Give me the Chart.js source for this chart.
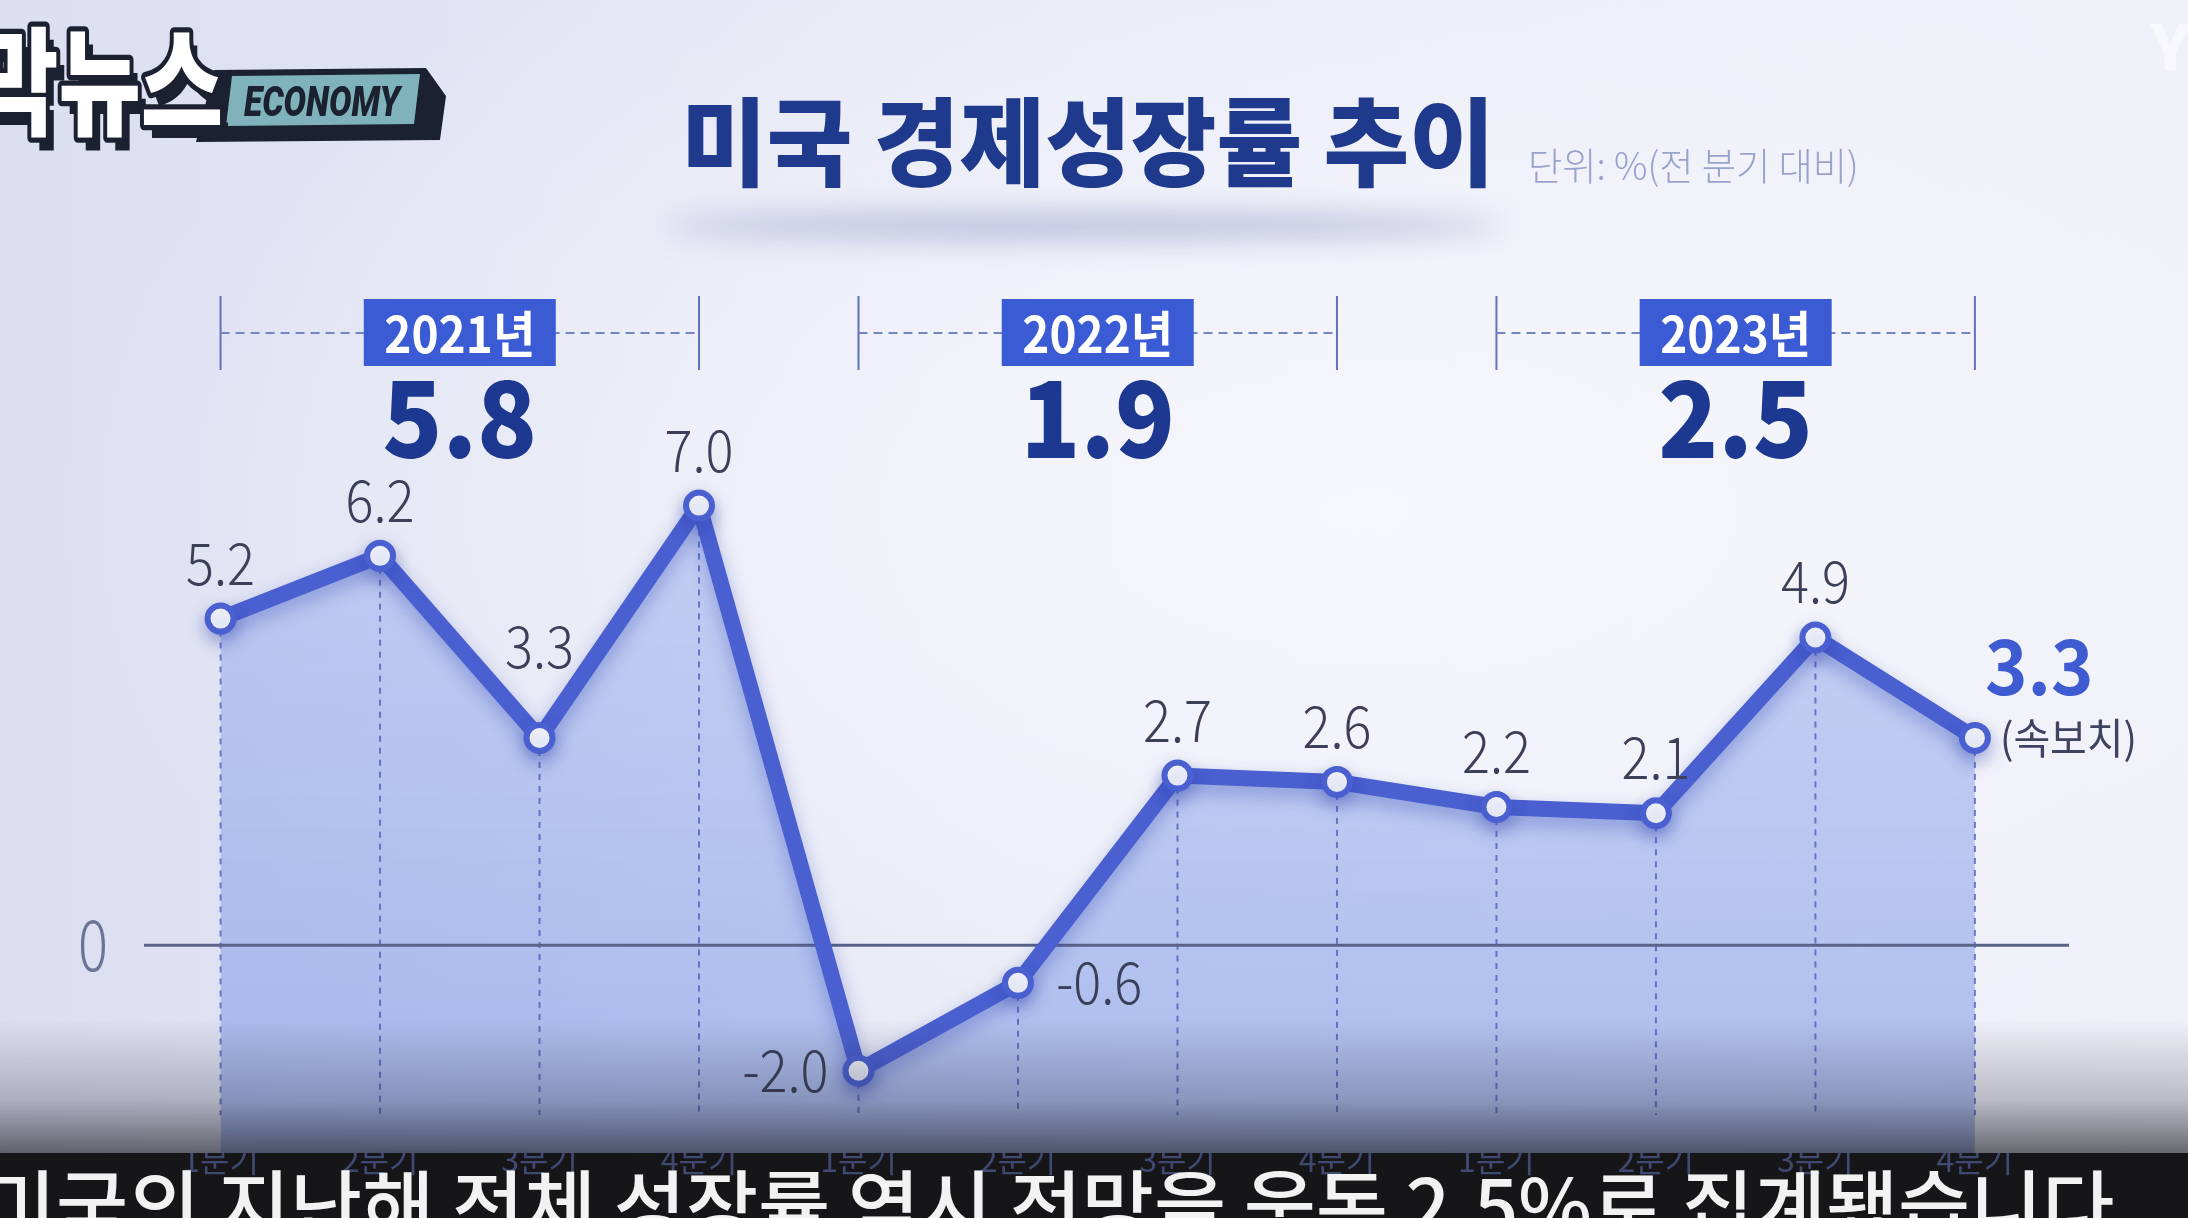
<!DOCTYPE html>
<html>
<head>
<meta charset="utf-8">
<script src="https://cdn.jsdelivr.net/npm/chart.js@4/dist/chart.umd.min.js"></script>
<style>
  html, body { margin: 0; padding: 0; overflow: hidden; }
  body {
    width: 2188px; height: 1218px;
    background:
      radial-gradient(ellipse 60% 55% at 62% 42%, rgba(248,249,253,0.9) 0%, rgba(248,249,253,0) 100%),
      linear-gradient(to right, #dcdff1 0%, #e7e9f6 45%, #eff0f8 100%);
  }
  #wrap { position: absolute; left: 0; top: 0; width: 2188px; height: 1218px; }
</style>
</head>
<body>
<div id="wrap"><canvas id="growthChart" width="2188" height="1218"></canvas></div>
<script>
// 분기별 데이터 (전 분기 대비, %)
const quarters = ['1분기', '2분기', '3분기', '4분기', '1분기', '2분기', '3분기', '4분기', '1분기', '2분기', '3분기', '4분기'];
const growth = [5.2, 6.2, 3.3, 7.0, -2.0, -0.6, 2.7, 2.6, 2.2, 2.1, 4.9, 3.3];
const years = ['2021년', '2022년', '2023년'];
const yearTotals = ['5.8', '1.9', '2.5'];
const yTicks = [0];

const FONT = "'Noto Sans CJK KR', 'Noto Sans', sans-serif";
const LINE_BLUE = '#4a5fd0';
const points = growth.map((v, i) => ({ x: i, y: v }));

function text(ctx, str, x, y, font, color, align, sx) {
    ctx.save();
    ctx.font = font;
    ctx.fillStyle = color;
    ctx.textAlign = align || 'center';
    ctx.textBaseline = 'alphabetic';
    ctx.translate(x, y);
    ctx.scale(sx || 1, 1);
    ctx.fillText(str, 0, 0);
    ctx.restore();
}

function drawLogo(ctx) {
    ctx.save();
    // dark backing
    ctx.fillStyle = '#1b2130';
    ctx.beginPath();
    ctx.moveTo(214, 70); ctx.lineTo(426, 68); ctx.lineTo(446, 96);
    ctx.lineTo(440, 140); ctx.lineTo(196, 142); ctx.closePath();
    ctx.fill();
    ctx.fillStyle = '#7fb2bb';
    ctx.beginPath();
    ctx.moveTo(232, 76); ctx.lineTo(420, 74); ctx.lineTo(414, 124); ctx.lineTo(226, 126);
    ctx.closePath();
    ctx.fill();
    ctx.font = "italic 900 42px 'Roboto', sans-serif";
    ctx.fillStyle = '#1b2130';
    ctx.textAlign = 'center';
    ctx.translate(322, 116);
    ctx.scale(0.8, 1);
    ctx.fillText('ECONOMY', 0, 0);
    ctx.restore();

    ctx.save();
    ctx.translate(-24, 126);
    ctx.scale(0.8, 1.05);
    ctx.font = '900 112px ' + FONT;
    ctx.lineJoin = 'round';
    ctx.fillStyle = '#1b2130';
    ctx.fillText('막뉴스', 10, 12);
    ctx.strokeStyle = '#1b2130';
    ctx.lineWidth = 10;
    ctx.strokeText('막뉴스', 0, 0);
    ctx.fillStyle = '#ffffff';
    ctx.fillText('막뉴스', 0, 0);
    ctx.restore();

    text(ctx, 'YTN', 2150, 70, "900 64px 'Roboto', sans-serif", 'rgba(255,255,255,0.5)', 'left');
}

const decoPlugin = {
    id: 'deco',
    beforeDraw(chart) {
        const ctx = chart.ctx;
        const x = chart.scales.x;

        // 제목 아래 그림자
        ctx.save();
        ctx.filter = 'blur(14px)';
        ctx.fillStyle = 'rgba(120,128,185,0.42)';
        ctx.beginPath();
        ctx.ellipse(1085, 226, 420, 14, 0, 0, Math.PI * 2);
        ctx.fill();
        ctx.restore();

        // 제목
        text(ctx, '미국 경제성장률 추이', 1088, 178, '900 96px ' + FONT, '#1f3a8c', 'center', 0.97);
        text(ctx, '단위: %(전 분기 대비)', 1528, 180, '300 38px ' + FONT, '#98a2cc', 'left', 0.98);

        drawLogo(ctx);

        // 연도 헤더
        years.forEach((name, k) => {
            const x0 = x.getPixelForValue(k * 4);
            const x1 = x.getPixelForValue(k * 4 + 3);
            const cx = (x0 + x1) / 2;
            ctx.save();
            ctx.strokeStyle = '#6372b8';
            ctx.lineWidth = 2;
            ctx.beginPath();
            ctx.moveTo(x0, 296); ctx.lineTo(x0, 370);
            ctx.moveTo(x1, 296); ctx.lineTo(x1, 370);
            ctx.stroke();
            ctx.setLineDash([9, 6]);
            ctx.strokeStyle = '#7784c4';
            ctx.beginPath();
            ctx.moveTo(x0, 333); ctx.lineTo(x1, 333);
            ctx.stroke();
            ctx.setLineDash([]);
            ctx.fillStyle = '#3b5bd5';
            ctx.fillRect(cx - 96, 299, 192, 67);
            ctx.restore();
            text(ctx, name, cx, 353, 'bold 50px ' + FONT, '#ffffff', 'center', 0.92);
            text(ctx, yearTotals[k], cx, 458, '900 106px ' + FONT, '#1d3890', 'center', 0.93);
        });
    },
    beforeDatasetDraw(chart, args) {
        if (args.index === 1) {
            const ctx = chart.ctx;
            ctx.save();
            ctx.shadowColor = 'rgba(40,60,170,0.35)';
            ctx.shadowBlur = 18;
            ctx.shadowOffsetY = 8;
        }
    },
    afterDatasetDraw(chart, args) {
        const ctx = chart.ctx;
        const x = chart.scales.x, y = chart.scales.y;
        const area = chart.chartArea;
        if (args.index === 0) {
            // 점선 세로선
            ctx.save();
            ctx.strokeStyle = 'rgba(70,90,180,0.75)';
            ctx.lineWidth = 2;
            ctx.setLineDash([6, 6]);
            growth.forEach((v, i) => {
                const px = x.getPixelForValue(i);
                ctx.beginPath();
                ctx.moveTo(px, y.getPixelForValue(v));
                ctx.lineTo(px, area.bottom - 38);
                ctx.stroke();
            });
            ctx.restore();
            // 0 기준선
            yTicks.forEach(t => {
                const py = y.getPixelForValue(t);
                ctx.save();
                ctx.strokeStyle = '#5a6288';
                ctx.lineWidth = 3;
                ctx.beginPath();
                ctx.moveTo(area.left, py);
                ctx.lineTo(area.right, py);
                ctx.stroke();
                ctx.restore();
                text(ctx, String(t), 93, py + 26, '300 70px ' + FONT, '#6b7396', 'center', 0.8);
            });
        } else if (args.index === 1) {
            ctx.restore();
        }
    },
    afterDraw(chart) {
        const ctx = chart.ctx;
        const x = chart.scales.x, y = chart.scales.y;
        const last = growth.length - 1;
        const lblFont = '300 58px ' + FONT;
        const lblColor = '#3b4058';

        growth.forEach((v, i) => {
            const px = x.getPixelForValue(i);
            const py = y.getPixelForValue(v);
            const s = v.toFixed(1);
            const prev = i > 0 ? growth[i - 1] : v;
            const next = i < last ? growth[i + 1] : v;
            const valley = prev - v > 1 && next - v > 1;
            if (i === last) {
                text(ctx, s, px + 10, py - 43, 'bold 76px ' + FONT, '#3f5bd2', 'left', 0.95);
                text(ctx, '(속보치)', px + 25, py + 16, '400 42px ' + FONT, '#3d4360', 'left', 0.95);
            } else if (v <= -1.5) {
                text(ctx, s, px - 30, py + 21, lblFont, lblColor, 'right', 0.9);
            } else if (v < 0) {
                text(ctx, s, px + 38, py + 21, lblFont, lblColor, 'left', 0.9);
            } else if (valley) {
                text(ctx, s, px, py - 70, lblFont, lblColor, 'center', 0.9);
            } else {
                text(ctx, s, px, py - 34, lblFont, lblColor, 'center', 0.9);
            }
        });

        // 하단 어두운 그라데이션 + 자막 띠
        ctx.save();
        const g = ctx.createLinearGradient(0, 1020, 0, 1153);
        g.addColorStop(0, 'rgba(30,32,45,0)');
        g.addColorStop(0.6, 'rgba(30,32,45,0.25)');
        g.addColorStop(1, 'rgba(20,20,26,0.62)');
        ctx.fillStyle = g;
        ctx.fillRect(0, 1020, 2188, 133);
        ctx.fillStyle = '#161618';
        ctx.fillRect(0, 1153, 2188, 65);
        ctx.restore();

        // 분기 라벨은 띠 위에 다시 그림
        x.draw(chart.chartArea);

        text(ctx, '미국의 지난해 전체 성장률 역시 전망을 웃돈 2.5%로 집계됐습니다', -16, 1236,
            '500 78px ' + FONT, '#f2f2f2', 'left', 1.005);
    }
};

const ctx = document.getElementById('growthChart').getContext('2d');
new Chart(ctx, {
    type: 'line',
    data: {
        datasets: [
            {
                data: points,
                borderWidth: 0,
                pointRadius: 0,
                tension: 0,
                fill: 'start',
                order: 2,
                backgroundColor(context) {
                    const area = context.chart.chartArea;
                    if (!area) return 'rgba(130,155,230,0.5)';
                    const g = context.chart.ctx.createLinearGradient(0, area.top, 0, area.bottom);
                    g.addColorStop(0, 'rgba(150,172,238,0.45)');
                    g.addColorStop(1, 'rgba(120,148,228,0.55)');
                    return g;
                }
            },
            {
                data: points,
                borderColor: LINE_BLUE,
                borderWidth: 16,
                borderJoinStyle: 'round',
                tension: 0,
                fill: false,
                order: 1,
                pointRadius: 13,
                pointBorderWidth: 6,
                pointBackgroundColor: '#ffffff',
                pointBorderColor: LINE_BLUE
            }
        ]
    },
    options: {
        responsive: false,
        animation: false,
        devicePixelRatio: 1,
        layout: { padding: { left: 144, right: 119, top: 380, bottom: 25 } },
        plugins: { legend: { display: false }, tooltip: { enabled: false } },
        scales: {
            x: {
                type: 'linear',
                min: -0.48,
                max: 11.59,
                grid: { display: false },
                border: { display: false },
                afterBuildTicks: axis => { axis.ticks = quarters.map((q, i) => ({ value: i })); },
                afterFit: axis => { axis.height = 40; },
                ticks: {
                    autoSkip: false,
                    maxRotation: 0,
                    padding: -20,
                    color: 'rgba(70,82,130,0.85)',
                    font: { family: FONT, size: 32 },
                    callback: (v, i) => quarters[i]
                }
            },
            y: {
                min: -3.31,
                max: 9,
                display: false
            }
        }
    },
    plugins: [decoPlugin]
});
</script>
</body>
</html>
